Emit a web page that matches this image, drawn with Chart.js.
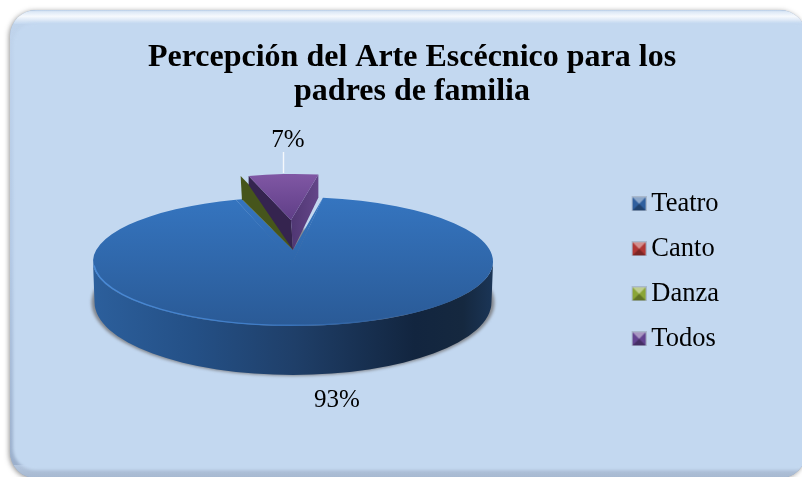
<!DOCTYPE html>
<html><head><meta charset="utf-8">
<style>html,body{margin:0;padding:0;background:#fff}canvas{display:block}</style>
<script src="https://cdn.jsdelivr.net/npm/chart.js@4"></script>
</head><body>
<div style="width:802px;height:477px"><canvas id="c" width="802" height="477"></canvas></div>
<script>
const categories = ['Teatro', 'Canto', 'Danza', 'Todos'];
const values = [93, 0, 0, 7];
const titleLines = ['Percepción del Arte Escécnico para los', 'padres de familia'];
const swatchColors = ['#2f5f9e', '#b03634', '#8aa536', '#634390'];

const R = 200;
const serif = '"Liberation Serif"';

// affine placement of every arc element on the tilted plane (k = perspective shear)
const placement = [
  {x: 293, y: 261.5, sx: 1, sy: 0.3225, k: 0},
  {x: 293, y: 261.5, sx: 1, sy: 0.3225, k: 0},
  {x: 283, y: 220, sx: 0.8, sy: 0.23, k: -0.0175},
  {x: 291, y: 220, sx: 0.8, sy: 0.23, k: -0.0175}
];
function apply(ctx, arc, p) {
  ctx.transform(p.sx, 0, p.k, p.sy, p.x, p.y); ctx.translate(-arc.x, -arc.y);
}
function pt(p, a, r) {
  const u = Math.cos(a) * r, v = Math.sin(a) * r;
  return [p.x + u * p.sx + v * p.k, p.y + v * p.sy];
}
function poly(ctx, pts, fill) {
  ctx.beginPath(); pts.forEach((q, i) => i ? ctx.lineTo(q[0], q[1]) : ctx.moveTo(q[0], q[1]));
  ctx.closePath(); ctx.fillStyle = fill; ctx.fill();
}
function roundPanel(ctx, x, y, w, h, r) { ctx.beginPath(); ctx.roundRect(x, y, w, h, r); }

const panelPlugin = {
  id: 'panel',
  beforeDraw(chart) {
    const ctx = chart.ctx;
    ctx.save();
    ctx.shadowColor = 'rgba(60,60,60,.55)'; ctx.shadowBlur = 5; ctx.shadowOffsetX = -1; ctx.shadowOffsetY = 1;
    roundPanel(ctx, 10, 10, 796, 468, 26);
    ctx.fillStyle = '#9fb3ce'; ctx.fill();
    ctx.shadowColor = 'transparent';
    roundPanel(ctx, 10, 10, 796, 468, 26); ctx.clip();
    let g = ctx.createLinearGradient(0, 24, 0, 478);
    g.addColorStop(0, '#c0d4ec'); g.addColorStop(.5, '#b4c9e4'); g.addColorStop(1, '#9aaeca');
    ctx.fillStyle = g; ctx.fillRect(0, 24, 802, 454);
    g = ctx.createLinearGradient(0, 10, 0, 24);
    g.addColorStop(0, '#b5cbe6'); g.addColorStop(.12, '#dce8f6'); g.addColorStop(.45, '#f6f9fd'); g.addColorStop(1, '#c4d8f0');
    ctx.fillStyle = g; ctx.fillRect(0, 0, 802, 24);
    g = ctx.createLinearGradient(0, 465, 0, 478);
    g.addColorStop(0, '#b4c6de'); g.addColorStop(1, '#a6b8d0');
    ctx.fillStyle = g; ctx.fillRect(0, 465, 802, 13);
    ctx.filter = 'blur(1.5px)';
    roundPanel(ctx, 13, 23, 806, 447, 22); ctx.fillStyle = '#c3d8f0'; ctx.fill();
    ctx.restore();
  }
};

const piePlugin = {
  id: 'pie3d',
  beforeDatasetsDraw(chart) {
    const ctx = chart.ctx, meta = chart.getDatasetMeta(0), arcs = meta.data;
    const base = placement[0], cx = base.x, cy = base.y, ry = R * base.sy;

    // shadow under the body
    ctx.save();
    ctx.filter = 'blur(1.5px)';
    ctx.fillStyle = '#84888f';
    ctx.beginPath(); ctx.ellipse(cx, 302.5, 201.5, 73.5, 0, 0, Math.PI * 2); ctx.fill();
    ctx.restore();

    // outer wall of the big slice
    ctx.save();
    let g = ctx.createLinearGradient(93, 0, 495, 0);
    g.addColorStop(0, '#2c5f9c'); g.addColorStop(.25, '#245086');
    g.addColorStop(.5, '#1f3f69'); g.addColorStop(.8, '#12253f'); g.addColorStop(.92, '#15283f'); g.addColorStop(1, '#1b3658');
    ctx.beginPath();
    ctx.ellipse(cx, cy, R, ry, 0, Math.PI, 0, true);
    ctx.lineTo(cx + R, cy + 2);
    ctx.ellipse(cx, 302, 198.5, 73, 0, 0, Math.PI, false);
    ctx.closePath();
    ctx.fillStyle = g; ctx.fill();
    ctx.restore();

    // top face of the big slice, through the library's arc element
    ctx.save();
    apply(ctx, arcs[0], base);
    arcs[0].draw(ctx);
    ctx.restore();

    // closes the notch: perspective moves its apex above the ellipse centre
    const s0 = pt(base, arcs[0].startAngle, R), e0 = pt(base, arcs[0].endAngle, R);
    const e1 = pt(base, arcs[0].endAngle + 0.0314, R);
    g = ctx.createLinearGradient(0, cy - ry, 0, cy + ry);
    g.addColorStop(0, '#3575c0'); g.addColorStop(1, '#2a5a96');
    poly(ctx, [[cx, cy + 1], e0, e1, [cx, 250], s0], g);

    // bevel on the front rim
    ctx.save();
    ctx.beginPath();
    ctx.ellipse(cx, cy, R - .7, ry - .7, 0, Math.PI * .98, Math.PI * .25, true);
    g = ctx.createLinearGradient(93, 0, 400, 0);
    g.addColorStop(0, '#4a8ad6'); g.addColorStop(.55, '#3f7cc6'); g.addColorStop(1, 'rgba(50,100,165,.3)');
    ctx.strokeStyle = g; ctx.lineWidth = 1.4; ctx.stroke();
    ctx.restore();

    // zero-width Danza slice: only its cut face is visible
    const pd = placement[2];
    const dOut = pt(pd, arcs[2].startAngle, R);
    poly(ctx, [dOut, e1, [cx, 250], [pd.x, pd.y]], '#46551b');

    // cut faces of Todos
    const pt4 = placement[3], a4 = arcs[3];
    const L = pt(pt4, a4.startAngle, R), Ri = pt(pt4, a4.endAngle, R), A = [pt4.x, pt4.y], tip = [293, 250];
    poly(ctx, [L, [L[0], L[1] + 9], tip, A], '#35244f');
    g = ctx.createLinearGradient(290, 0, 319, 0);
    g.addColorStop(0, '#4f3672'); g.addColorStop(1, '#644689');
    poly(ctx, [Ri, [Ri[0], Ri[1] + 23], tip, A], g);

    ctx.save();
    apply(ctx, a4, pt4);
    a4.draw(ctx);
    ctx.restore();

    // data labels and leader line
    ctx.save();
    const total = values.reduce((s, v) => s + v, 0);
    ctx.font = '25px ' + serif;
    ctx.fillStyle = '#000'; ctx.textAlign = 'center'; ctx.textBaseline = 'middle';
    const spots = {0: [337, 400], 3: [288, 140]};
    values.forEach((v, i) => {
      if (v > 0) ctx.fillText(Math.round(v / total * 100) + '%', spots[i][0], spots[i][1]);
    });
    ctx.strokeStyle = '#f4f8fc'; ctx.lineWidth = 1.4;
    ctx.beginPath(); ctx.moveTo(283.5, 152); ctx.lineTo(283.5, 173); ctx.stroke();
    ctx.restore();
    return false;
  }
};

function swatch(color) {
  const c = document.createElement('canvas'); c.width = 17; c.height = 15;
  const x = c.getContext('2d');
  x.translate(2, 0);
  x.fillStyle = '#a9b8cc'; x.fillRect(0, 0, 15, 15);
  x.fillStyle = color; x.fillRect(1, 1, 13, 13);
  x.globalAlpha = .45; x.fillStyle = '#fff';
  x.beginPath(); x.moveTo(1, 1); x.lineTo(14, 1); x.lineTo(7.5, 7.5); x.closePath(); x.fill();
  x.globalAlpha = .3; x.fillStyle = '#000';
  x.beginPath(); x.moveTo(1, 14); x.lineTo(14, 14); x.lineTo(7.5, 7.5); x.closePath(); x.fill();
  return c;
}

function topFill(ctx, a, b, y0, y1) {
  const g = ctx.createLinearGradient(0, y0, 0, y1);
  g.addColorStop(0, a); g.addColorStop(1, b);
  return g;
}

new Chart(document.getElementById('c'), {
  type: 'pie',
  data: {
    labels: categories,
    datasets: [{
      data: values,
      radius: R,
      borderWidth: 0,
      backgroundColor(c) {
        const area = c.chart.chartArea;
        const y = area ? (area.top + area.bottom) / 2 : 250;
        const k = c.chart.ctx;
        return [
          topFill(k, '#3575c0', '#2a5a96', y - R, y + R),
          topFill(k, '#c8403e', '#a83432', y - R, y + R),
          topFill(k, '#9bb73f', '#82a033', y - R, y + R),
          topFill(k, '#8057a4', '#5f3e87', y - R, y)
        ][c.dataIndex];
      }
    }]
  },
  options: {
    responsive: false,
    animation: false,
    rotation: 8.6,
    layout: {padding: {left: 95, right: 73, top: 24, bottom: 43}},
    plugins: {
      tooltip: {enabled: false},
      title: {
        display: true,
        fullSize: true,
        text: titleLines,
        color: '#000',
        font: {family: serif, size: 32, weight: 'bold', lineHeight: 1.065},
        padding: {top: 16.5, bottom: 0}
      },
      legend: {
        position: 'right',
        align: 'center',
        fullSize: false,
        labels: {
          color: '#000',
          font: {family: serif, size: 26.5},
          padding: 18.5,
          usePointStyle: true,
          pointStyleWidth: 0.01,
          generateLabels(chart) {
            return categories.map((t, i) => ({text: t, pointStyle: swatch(swatchColors[i]), fillStyle: swatchColors[i], strokeStyle: 'transparent', lineWidth: 0, hidden: false, index: i, datasetIndex: 0}));
          }
        }
      }
    }
  },
  plugins: [panelPlugin, piePlugin]
});
</script>
</body></html>
